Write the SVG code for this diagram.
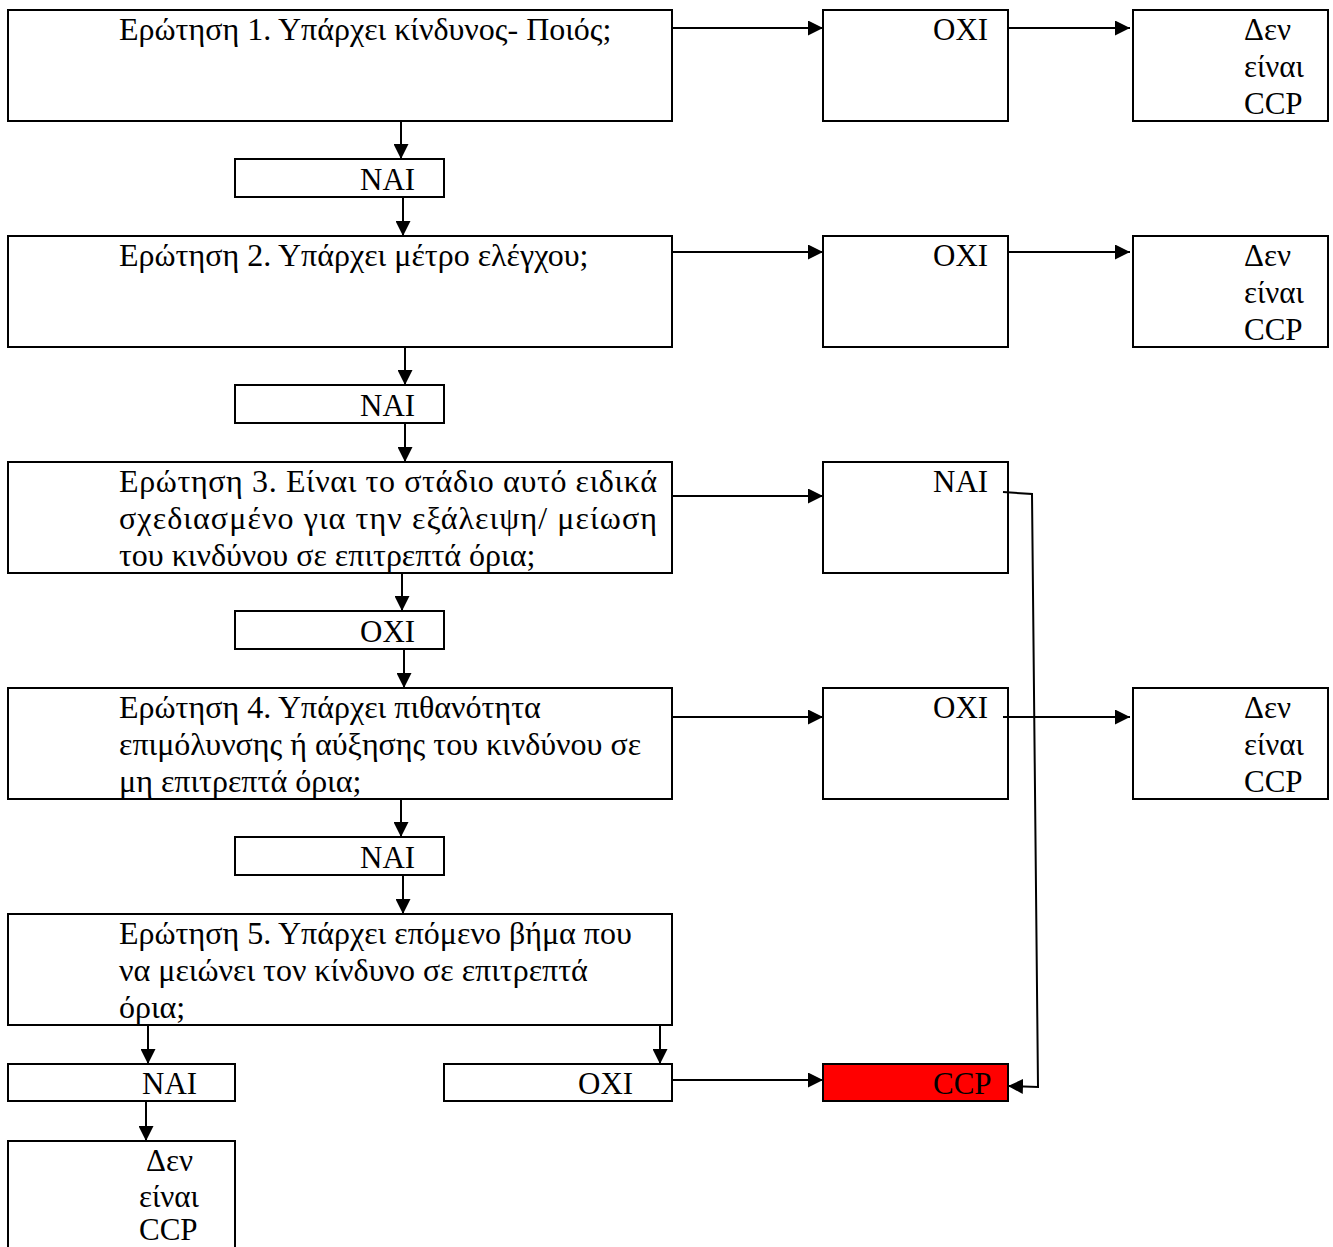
<svg xmlns="http://www.w3.org/2000/svg" width="1333" height="1247" viewBox="0 0 1333 1247">
<style>
.b{fill:#fff;stroke:#000;stroke-width:2}
.r{fill:#ff0000;stroke:#000;stroke-width:2}
text{font-family:"Liberation Serif","Times New Roman",serif;font-size:31px;fill:#000}
text.g{font-size:32px}
.c line,.c polyline{stroke:#000;stroke-width:2;fill:none}
</style>
<defs>
<marker id="a" viewBox="0 0 10 10" refX="10" refY="5" markerWidth="15" markerHeight="15" markerUnits="userSpaceOnUse" orient="auto"><path d="M0,0 L10,5 L0,10 z" fill="#000"/></marker>
</defs>
<rect width="1333" height="1247" fill="#fff"/>
<g id="q1"><rect class="b" x="8" y="10" width="664" height="111"/><text class="g" x="119" y="40">Ερώτηση 1. Υπάρχει κίνδυνος- Ποιός;</text></g>
<g id="n1"><rect class="b" x="235" y="159" width="209" height="38"/><text x="360" y="190">NAI</text></g>
<g id="q2"><rect class="b" x="8" y="236" width="664" height="111"/><text class="g" x="119" y="266">Ερώτηση 2. Υπάρχει μέτρο ελέγχου;</text></g>
<g id="n2"><rect class="b" x="235" y="385" width="209" height="38"/><text x="360" y="416">NAI</text></g>
<g id="q3"><rect class="b" x="8" y="462" width="664" height="111"/>
<text class="g" x="119" y="492" textLength="538" lengthAdjust="spacing">Ερώτηση 3. Είναι το στάδιο αυτό ειδικά</text>
<text class="g" x="119" y="529" textLength="538" lengthAdjust="spacing">σχεδιασμένο για την εξάλειψη/ μείωση</text>
<text class="g" x="119" y="566">του κινδύνου σε επιτρεπτά όρια;</text></g>
<g id="o3"><rect class="b" x="235" y="611" width="209" height="38"/><text x="360" y="642">OXI</text></g>
<g id="q4"><rect class="b" x="8" y="688" width="664" height="111"/>
<text class="g" x="119" y="718">Ερώτηση 4. Υπάρχει πιθανότητα</text>
<text class="g" x="119" y="755">επιμόλυνσης ή αύξησης του κινδύνου σε</text>
<text class="g" x="119" y="792">μη επιτρεπτά όρια;</text></g>
<g id="n4"><rect class="b" x="235" y="837" width="209" height="38"/><text x="360" y="868">NAI</text></g>
<g id="q5"><rect class="b" x="8" y="914" width="664" height="111"/>
<text class="g" x="119" y="944">Ερώτηση 5. Υπάρχει επόμενο βήμα που</text>
<text class="g" x="119" y="981">να μειώνει τον κίνδυνο σε επιτρεπτά</text>
<text class="g" x="119" y="1018">όρια;</text></g>
<g id="n5"><rect class="b" x="8" y="1064" width="227" height="37"/><text x="142" y="1094">NAI</text></g>
<g id="o5"><rect class="b" x="444" y="1064" width="228" height="37"/><text x="578" y="1094">OXI</text></g>
<g id="d5"><rect class="b" x="8" y="1141" width="227" height="112"/>
<text x="146" y="1171">Δεν</text><text x="139" y="1207">είναι</text><text x="139" y="1240">CCP</text></g>
<g id="m1"><rect class="b" x="823" y="10" width="185" height="111"/><text x="933" y="40">OXI</text></g>
<g id="m2"><rect class="b" x="823" y="236" width="185" height="111"/><text x="933" y="266">OXI</text></g>
<g id="m3"><rect class="b" x="823" y="462" width="185" height="111"/><text x="933" y="492">NAI</text></g>
<g id="m4"><rect class="b" x="823" y="688" width="185" height="111"/><text x="933" y="718">OXI</text></g>
<g id="ccp"><rect class="r" x="823" y="1064" width="185" height="37"/><text x="933" y="1094">CCP</text></g>
<g id="r1"><rect class="b" x="1133" y="10" width="195" height="111"/>
<text x="1244" y="40">Δεν</text><text x="1244" y="77">είναι</text><text x="1244" y="114">CCP</text></g>
<g id="r2"><rect class="b" x="1133" y="236" width="195" height="111"/>
<text x="1244" y="266">Δεν</text><text x="1244" y="303">είναι</text><text x="1244" y="340">CCP</text></g>
<g id="r4"><rect class="b" x="1133" y="688" width="195" height="111"/>
<text x="1244" y="718">Δεν</text><text x="1244" y="755">είναι</text><text x="1244" y="792">CCP</text></g>
<g class="c" id="connectors">
<line x1="672" y1="28" x2="823" y2="28" marker-end="url(#a)"/>
<line x1="1008" y1="28" x2="1130" y2="28" marker-end="url(#a)"/>
<line x1="672" y1="252" x2="823" y2="252" marker-end="url(#a)"/>
<line x1="1008" y1="252" x2="1130" y2="252" marker-end="url(#a)"/>
<line x1="672" y1="496" x2="823" y2="496" marker-end="url(#a)"/>
<line x1="672" y1="717" x2="823" y2="717" marker-end="url(#a)"/>
<line x1="1003" y1="717" x2="1130" y2="717" marker-end="url(#a)"/>
<line x1="672" y1="1080" x2="823" y2="1080" marker-end="url(#a)"/>
<polyline points="1003,492 1032,494 1038,1087 1008,1086" marker-end="url(#a)"/>
<line x1="401" y1="121" x2="401" y2="159" marker-end="url(#a)"/>
<line x1="403" y1="197" x2="403" y2="236" marker-end="url(#a)"/>
<line x1="405" y1="347" x2="405" y2="385" marker-end="url(#a)"/>
<line x1="405" y1="423" x2="405" y2="462" marker-end="url(#a)"/>
<line x1="402" y1="573" x2="402" y2="611" marker-end="url(#a)"/>
<line x1="404" y1="649" x2="404" y2="688" marker-end="url(#a)"/>
<line x1="401" y1="799" x2="401" y2="837" marker-end="url(#a)"/>
<line x1="403" y1="875" x2="403" y2="914" marker-end="url(#a)"/>
<line x1="148" y1="1025" x2="148" y2="1064" marker-end="url(#a)"/>
<line x1="146" y1="1101" x2="146" y2="1141" marker-end="url(#a)"/>
<line x1="660" y1="1025" x2="660" y2="1064" marker-end="url(#a)"/>
</g>
</svg>
